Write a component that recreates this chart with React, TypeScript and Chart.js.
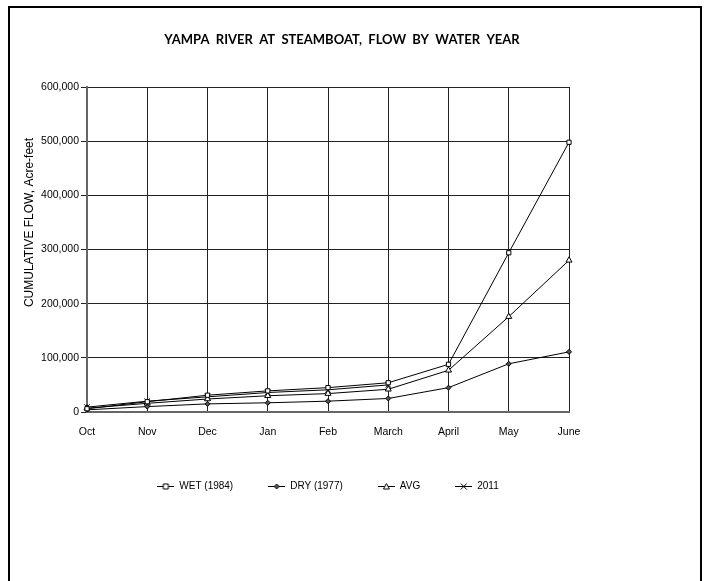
import React, { useEffect, useRef } from "react";
import { Chart, registerables } from "chart.js";

Chart.register(...registerables);

const categories = ["Oct", "Nov", "Dec", "Jan", "Feb", "March", "April", "May", "June"];
const wet1984 = [6000, 19000, 31000, 39000, 45000, 54000, 88000, 294000, 498000];
const dry1977 = [4000, 10000, 15000, 17000, 20000, 25000, 45000, 89000, 111000];
const avgFlow = [7000, 16000, 24000, 30000, 34000, 42000, 77000, 176000, 280000];
const flow2011 = [9000, 20000, 28000, 36000, 41000, 50000, null, null, null];
const seriesNames = ["WET (1984)", "DRY (1977)", "AVG", "2011"];
const yTicks = [0, 100000, 200000, 300000, 400000, 500000, 600000];

const TITLE = "YAMPA  RIVER  AT  STEAMBOAT,  FLOW  BY  WATER  YEAR";
const Y_TITLE = "CUMULATIVE FLOW, Acre-feet";
const SANS = "'Liberation Sans', Arial, sans-serif";
const NARROW = "'Liberation Sans Narrow', 'Liberation Sans', Arial, sans-serif";

function legendImage(kind: string): HTMLCanvasElement {
  const c = document.createElement("canvas");
  c.width = 17;
  c.height = 9;
  const g = c.getContext("2d")!;
  g.strokeStyle = "#000";
  g.lineWidth = 1;
  g.beginPath();
  g.moveTo(0, 4.5);
  g.lineTo(17, 4.5);
  g.stroke();
  const cx = 8.5;
  const cy = 4.5;
  g.beginPath();
  if (kind === "rect") {
    g.rect(cx - 2.5, cy - 2.5, 5, 5);
    g.fillStyle = "#fff";
    g.fill();
    g.stroke();
  } else if (kind === "rectRot") {
    g.moveTo(cx, cy - 2.5);
    g.lineTo(cx + 2.5, cy);
    g.lineTo(cx, cy + 2.5);
    g.lineTo(cx - 2.5, cy);
    g.closePath();
    g.fillStyle = "#555";
    g.fill();
    g.stroke();
  } else if (kind === "triangle") {
    g.moveTo(cx, cy - 3);
    g.lineTo(cx + 3, cy + 2.5);
    g.lineTo(cx - 3, cy + 2.5);
    g.closePath();
    g.fillStyle = "#fff";
    g.fill();
    g.stroke();
  } else {
    g.moveTo(cx - 3, cy - 3);
    g.lineTo(cx + 3, cy + 3);
    g.moveTo(cx + 3, cy - 3);
    g.lineTo(cx - 3, cy + 3);
    g.stroke();
  }
  return c;
}

const yTitlePlugin = {
  id: "yTitleCustom",
  afterDraw(chart: any) {
    const ctx = chart.ctx;
    ctx.save();
    ctx.translate(20, 214.5);
    ctx.rotate(-Math.PI / 2);
    ctx.font = `12px ${SANS}`;
    ctx.fillStyle = "#000";
    ctx.textAlign = "center";
    ctx.textBaseline = "middle";
    ctx.fillText(Y_TITLE, 0, 0);
    ctx.restore();
  },
};

export default function App() {
  const ref = useRef<HTMLCanvasElement | null>(null);

  useEffect(() => {
    document.body.style.overflow = "hidden";
    const canvas = ref.current!;
    const styles = ["rect", "rectRot", "triangle", "crossRot"];
    const images = styles.map((s) => legendImage(s));
    const mk = (label: string, data: (number | null)[], style: string, radius: number, bg: string) => ({
      label,
      data,
      borderColor: "#000",
      borderWidth: 1,
      backgroundColor: bg,
      pointStyle: style,
      pointRadius: radius,
      pointBorderColor: "#000",
      pointBackgroundColor: bg,
      pointBorderWidth: 1,
      tension: 0,
      spanGaps: false,
      fill: false,
    });
    const chart = new Chart(canvas, {
      type: "line",
      data: {
        labels: categories,
        datasets: [
          mk(seriesNames[0], wet1984, "rect", 3, "#fff"),
          mk(seriesNames[1], dry1977, "rectRot", 2.5, "#555"),
          mk(seriesNames[2], avgFlow, "triangle", 3.5, "#fff"),
          mk(seriesNames[3], flow2011, "crossRot", 4, "#fff"),
        ] as any,
      },
      options: {
        animation: false,
        responsive: false,
        maintainAspectRatio: false,
        layout: { padding: { left: 0, right: 26, top: 0, bottom: 102.5 } },
        plugins: {
          title: {
            display: true,
            text: TITLE,
            color: "#000",
            font: { family: "Lato, 'Open Sans', sans-serif", size: 13, weight: "bold" },
            padding: { top: 24, bottom: 39.4 },
            fullSize: true,
          },
          legend: {
            display: true,
            position: "bottom",
            fullSize: false,
            labels: {
              usePointStyle: true,
              pointStyleWidth: 17,
              padding: 35,
              color: "#000",
              font: { family: NARROW, size: 10 },
              generateLabels: (ch: any) => {
                const base = (Chart.defaults as any).plugins.legend.labels.generateLabels(ch);
                return base.map((it: any, i: number) => ({ ...it, pointStyle: images[i] }));
              },
            },
          },
          tooltip: { enabled: false },
        },
        scales: {
          x: {
            type: "category",
            offset: false,
            grid: { display: true, color: "#222", lineWidth: 1, drawTicks: false },
            border: { display: true, color: "#666", width: 2 },
            ticks: {
              color: "#000",
              font: { family: SANS, size: 10.5 },
              padding: 14,
              maxRotation: 0,
              autoSkip: false,
            },
            afterFit: (s: any) => {
              s.height = 34.5;
            },
          },
          y: {
            type: "linear",
            position: "left",
            min: 0,
            max: 600000,
            afterBuildTicks: (s: any) => {
              s.ticks = yTicks.map((v) => ({ value: v }));
            },
            grid: { display: true, color: "#222", lineWidth: 1, drawTicks: true, tickLength: 6 },
            border: { display: true, color: "#666", width: 2 },
            ticks: {
              color: "#000",
              font: { family: SANS, size: 10.5 },
              padding: 2,
              callback: (v: any) => Number(v).toLocaleString("en-US"),
            },
            afterFit: (s: any) => {
              s.width = 77;
            },
          },
          y2: {
            type: "linear",
            position: "right",
            display: true,
            grid: { display: false },
            border: { display: false },
            ticks: { display: false },
            afterFit: (s: any) => {
              s.width = 105;
            },
          },
        },
      } as any,
      plugins: [yTitlePlugin],
    });
    return () => chart.destroy();
  }, []);

  return (
    <div
      style={{
        position: "absolute",
        left: 8,
        top: 6,
        width: 694,
        height: 600,
        border: "2px solid #000",
        boxSizing: "border-box",
        background: "#fff",
      }}
    >
      <canvas ref={ref} width={690} height={596} style={{ display: "block" }} />
    </div>
  );
}
